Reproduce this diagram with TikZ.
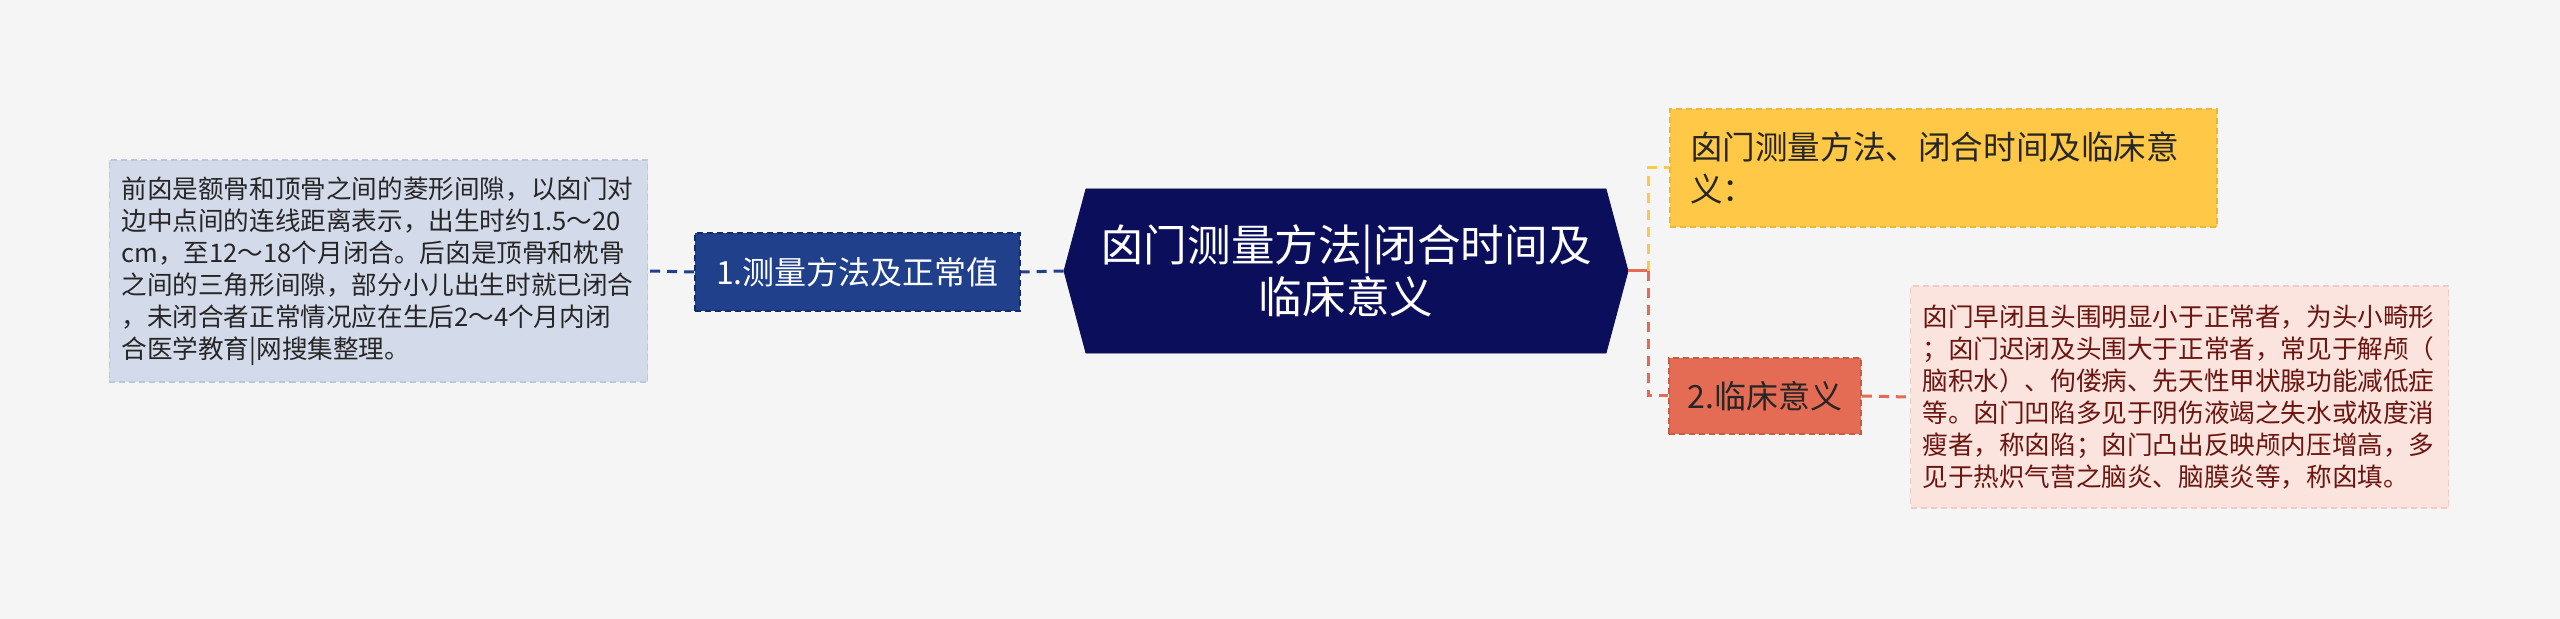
\documentclass[tikz,border=0pt]{standalone}
\usepackage{fontspec}
\setmainfont{Noto Sans CJK SC}
\usetikzlibrary{shapes.symbols}
\definecolor{bgcol}{HTML}{F5F5F5}
\definecolor{hexcol}{HTML}{0B0F5B}
\definecolor{bluecol}{HTML}{21408B}
\definecolor{bluedark}{HTML}{142C6E}
\definecolor{greycol}{HTML}{D3DAEA}
\definecolor{greyline}{HTML}{BCC6DD}
\definecolor{yelcol}{HTML}{FFC847}
\definecolor{yelline}{HTML}{EDB53A}
\definecolor{redcol}{HTML}{E46C55}
\definecolor{redline}{HTML}{C95A46}
\definecolor{pinkcol}{HTML}{FBE3DE}
\definecolor{pinkline}{HTML}{F2CCC4}
\definecolor{pinktext}{HTML}{6B1510}
\begin{document}
\begin{tikzpicture}[x=0.5bp,y=-0.5bp,
    dashbox/.style={draw,dash pattern=on 3bp off 2bp,line width=0.8bp,inner ysep=0pt},
    notebox/.style={dashbox,text width=257bp,inner xsep=6bp,minimum height=111bp,
      align=left,font=\fontsize{12.8bp}{16bp}\selectfont},
    link/.style={line width=1.5bp,dash pattern=on 5bp off 3.5bp}]
  \useasboundingbox [fill=bgcol] (0,0) rectangle (2560,619);
  \node (Root) at (1346,271) [signal,signal to=east and west,signal pointer angle=150,
    fill=hexcol,draw=hexcol,minimum width=282bp,minimum height=82bp,inner sep=0pt,
    text=white,align=center,font=\fontsize{21.8bp}{26bp}\selectfont]
    {囟门测量方法|闭合时间及\\临床意义};
  \node (Measure) at (857.5,272) [dashbox,fill=bluecol,draw=bluedark,text=white,
    minimum width=162.5bp,minimum height=39bp,font=\fontsize{16bp}{19bp}\selectfont]
    {1.测量方法及正常值};
  \node (MeasureNote) at (378.5,271) [notebox,fill=greycol,draw=greyline,text=black!85]
    {前囟是额骨和顶骨之间的菱形间隙，以囟门对\\
     边中点间的连线距离表示，出生时约1.5～20\\
     cm，至12～18个月闭合。后囟是顶骨和枕骨\\
     之间的三角形间隙，部分小儿出生时就已闭合\\
     ，未闭合者正常情况应在生后2～4个月内闭\\
     合医学教育|网搜集整理。};
  \node (Title) at (1943.5,168) [dashbox,fill=yelcol,draw=yelline,text=black!85,
    text width=253.5bp,inner xsep=10bp,minimum height=59bp,align=left,
    font=\fontsize{16.3bp}{21bp}\selectfont]
    {囟门测量方法、闭合时间及临床意\\义：};
  \node (Clinic) at (1765,396) [dashbox,fill=redcol,draw=redline,text=black!85,
    minimum width=96bp,minimum height=38bp,font=\fontsize{16bp}{19bp}\selectfont]
    {2.临床意义};
  \node (ClinicNote) at (2179.5,397) [notebox,fill=pinkcol,draw=pinkline,text=pinktext]
    {囟门早闭且头围明显小于正常者，为头小畸形\\
     ；囟门迟闭及头围大于正常者，常见于解颅（\\
     脑积水）、佝偻病、先天性甲状腺功能减低症\\
     等。囟门凹陷多见于阴伤液竭之失水或极度消\\
     瘦者，称囟陷；囟门凸出反映颅内压增高，多\\
     见于热炽气营之脑炎、脑膜炎等，称囟填。};
  \coordinate (Fork) at (1648,271);
  % left branch
  \draw [link,bluecol] (Root.west) -- (Measure.east);
  \draw [link,bluecol] (Measure.west) -- (MeasureNote.east);
  % right branch
  \draw [line width=1.5bp,redcol] (Root.east) -- (Fork);
  \draw [link,yelcol] (Fork) |- (Title.west);
  \draw [link,redcol] (Fork) |- (Clinic.west);
  \draw [link,redcol] (Clinic.east) -- (ClinicNote.west);
\end{tikzpicture}
\end{document}
